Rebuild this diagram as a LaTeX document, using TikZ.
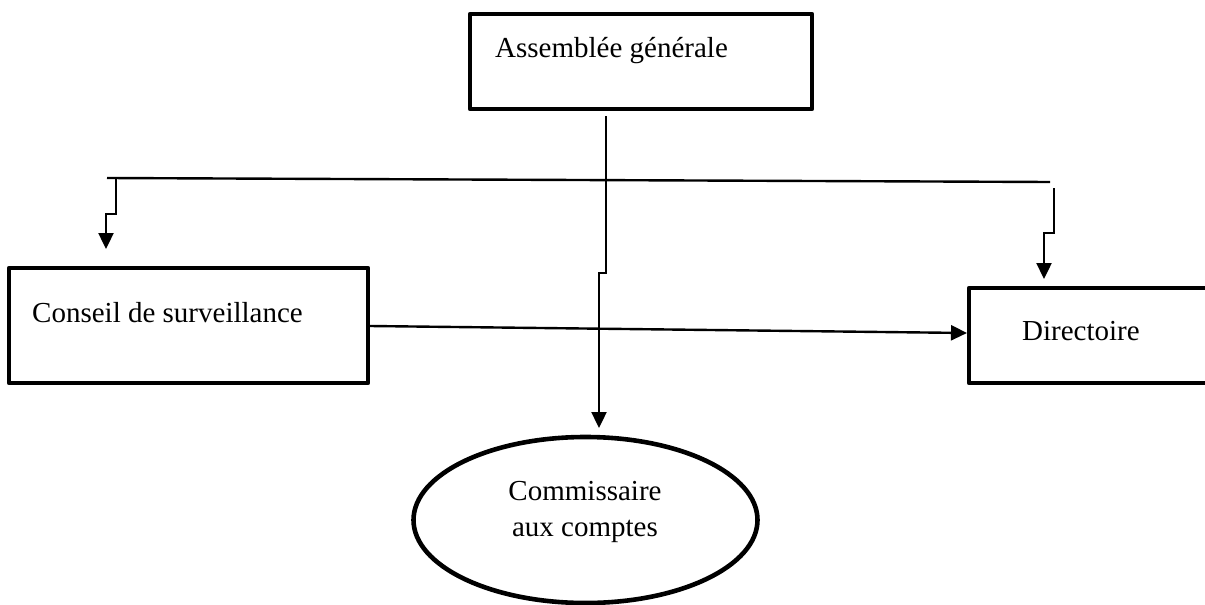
\documentclass[tikz,border=0pt]{standalone}
\usepackage{fontspec}
\setmainfont{Liberation Serif}
\usetikzlibrary{arrows.meta,shapes.geometric}
\begin{document}
\begin{tikzpicture}[x=1pt,y=-1pt,
  box/.style={draw,line width=4.6pt,line join=round,rectangle,inner sep=0pt,outer sep=0pt},
  oval/.style={draw,line width=4.6pt,ellipse,inner sep=0pt,outer sep=0pt},
  lbl/.style={font=\fontsize{29}{34}\selectfont,inner sep=0pt,anchor=base west},
  conn/.style={line width=2.4pt},
  arr/.style={line width=2.4pt,-{Triangle[width=15pt,length=16pt]}}]
\useasboundingbox (0,0) rectangle (1205,605);
\clip (0,0) rectangle (1205,605);
% boxes
\node[box,minimum width=342pt,minimum height=95pt] (ag) at (641,61.5) {};
\node[box,minimum width=359pt,minimum height=115pt] (cs) at (188.5,325.5) {};
\node[box,minimum width=246pt,minimum height=95pt] (di) at (1092,335.5) {};
\node[oval,minimum width=344pt,minimum height=166pt] (cac) at (585.5,520) {};
% labels
\node[lbl] (agt) at (495,57) {Assemblée générale};
\node[lbl] (cst) at (32,322) {Conseil de surveillance};
\node[lbl] (dit) at (1022,340) {Directoire};
\node[font=\fontsize{29}{36}\selectfont,align=center,inner sep=0pt] (cact) at (585,512) {Commissaire\\aux comptes};
% coordinates
\coordinate (m0) at (606,116);
\coordinate (m1) at (606,273);
\coordinate (m2) at (599,273);
\coordinate (m3) at (599,428);
\coordinate (h0) at (107,178);
\coordinate (h1) at (1050,182);
\coordinate (l0) at (116,178);
\coordinate (l1) at (116,214);
\coordinate (l2) at (106,214);
\coordinate (l3) at (106,249);
\coordinate (r0) at (1054,188);
\coordinate (r1) at (1054,233);
\coordinate (r2) at (1044,233);
\coordinate (r3) at (1044,279);
\coordinate (a0) at (370,326);
\coordinate (a1) at (967,333);
% connectors
\draw[arr] (m0) -- (m1) -- (m2) -- (m3);
\draw[conn] (h0) -- (h1);
\draw[arr] (l0) -- (l1) -- (l2) -- (l3);
\draw[arr] (r0) -- (r1) -- (r2) -- (r3);
\draw[arr] (a0) -- (a1);
\end{tikzpicture}
\end{document}
